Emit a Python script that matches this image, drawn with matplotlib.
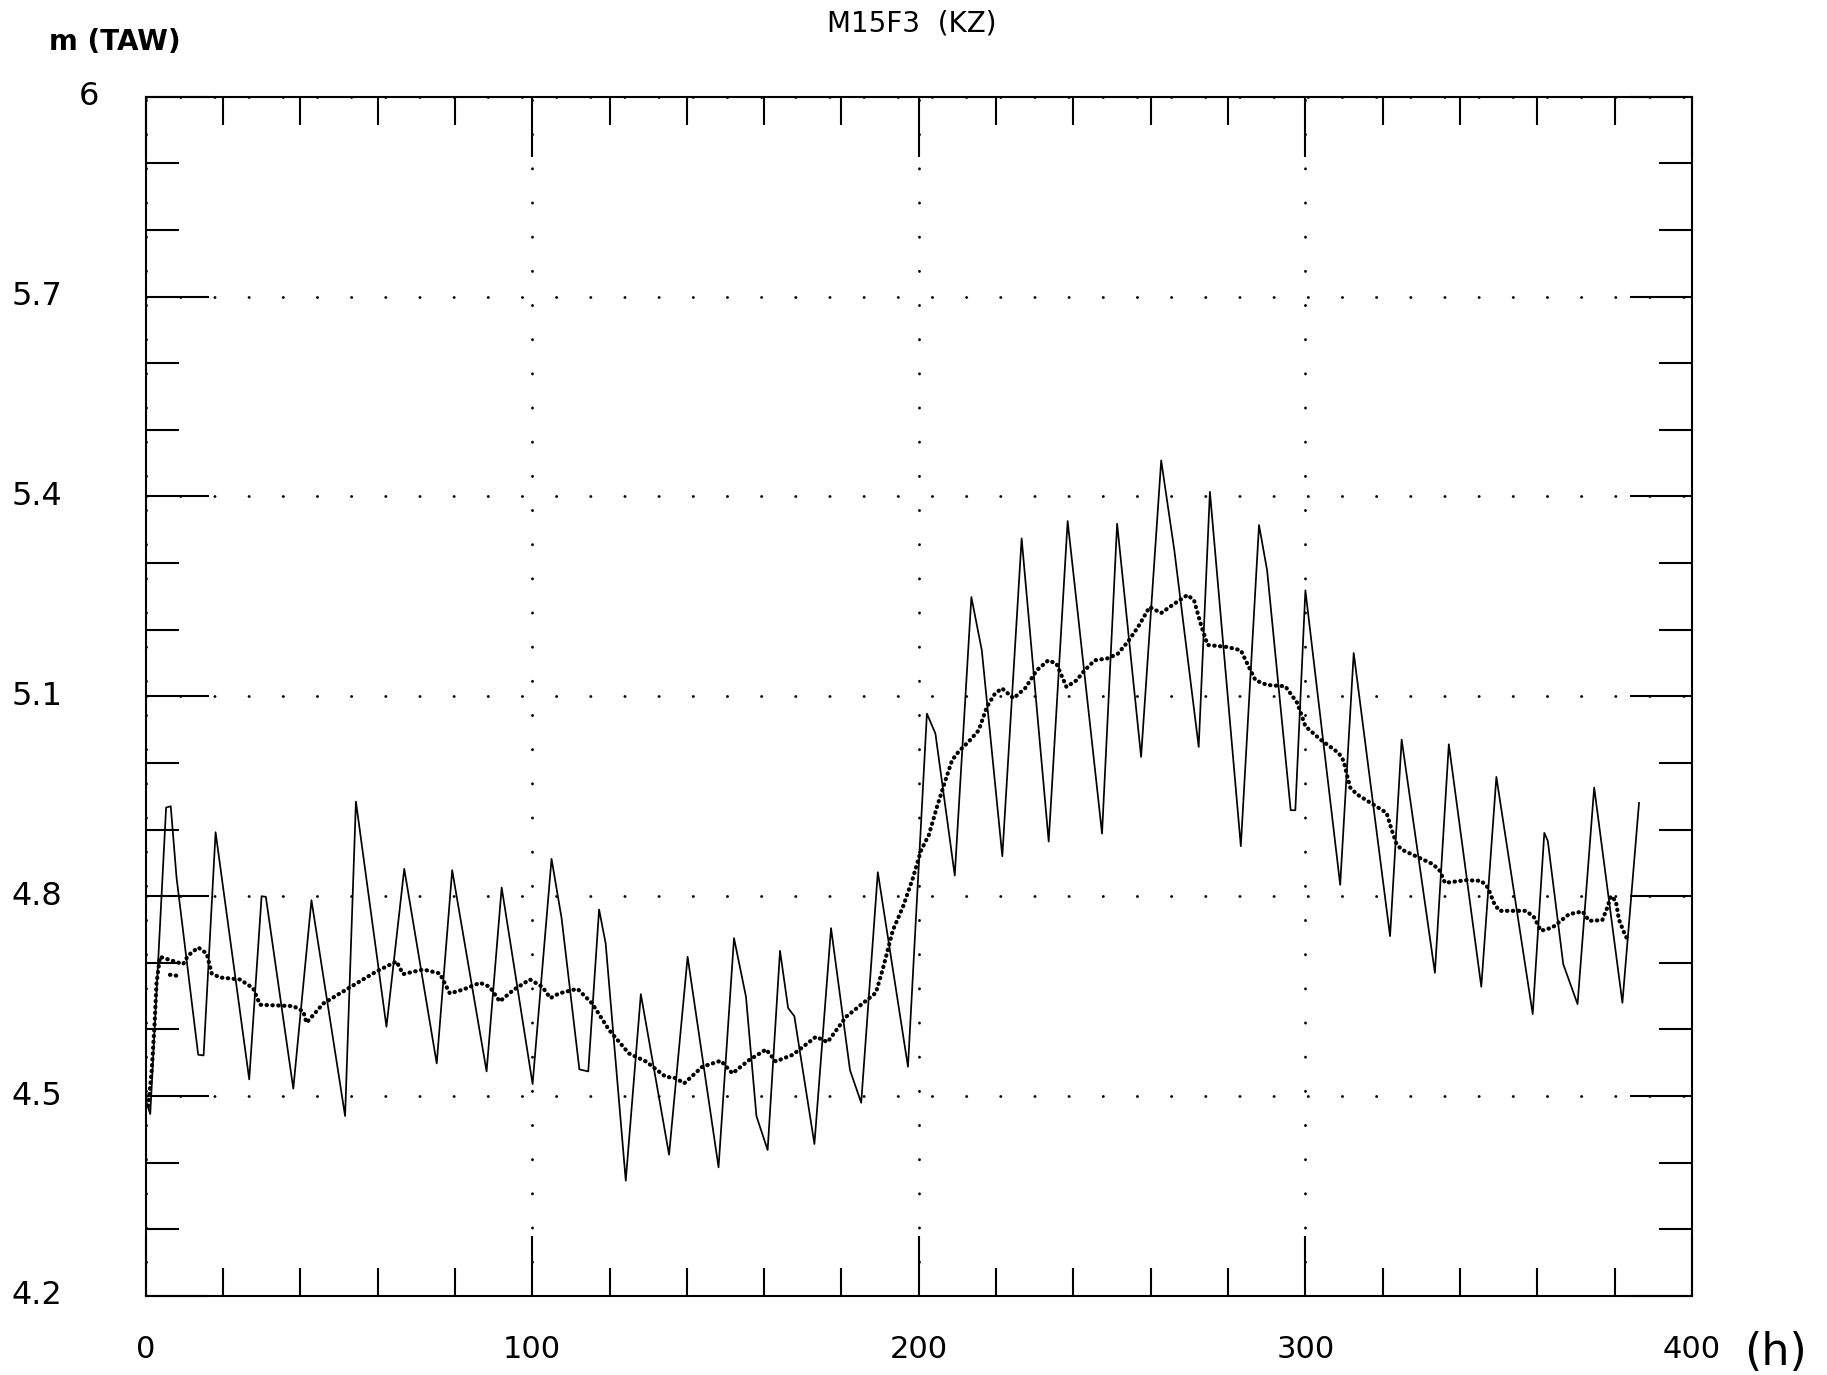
import numpy as np
import matplotlib
matplotlib.use('Agg')
import matplotlib.pyplot as plt
from matplotlib.ticker import MultipleLocator

# tide record (peaks / troughs / shoulders), hours and m TAW
tide_t = [0.0, 1.2, 5.3, 6.5, 8.0, 13.6, 15.0, 18.1, 26.8, 30.0, 31.1, 38.2, 42.9,
          51.6, 54.4, 62.3, 66.9, 75.3, 79.3, 88.2, 92.1, 100.1, 105.0, 107.6, 112.2,
          114.5, 117.3, 119.0, 124.2, 128.1, 135.4, 140.2, 148.2, 152.2, 155.3, 158.0,
          160.9, 164.1, 166.2, 167.8, 173.0, 177.3, 182.2, 185.1, 189.4, 197.2, 202.1,
          204.3, 209.3, 213.6, 216.3, 221.6, 226.6, 233.6, 238.5, 247.4, 251.3, 257.5,
          262.7, 266.1, 272.4, 275.3, 283.3, 288.0, 290.1, 296.2, 297.4, 300.0, 309.0,
          312.5, 321.9, 324.9, 333.5, 337.1, 345.5, 349.4, 358.8, 361.8, 362.7, 366.7,
          370.4, 374.7, 382.0, 386.3]
tide_v = [4.495, 4.473, 4.933, 4.935, 4.828, 4.562, 4.561, 4.896, 4.525, 4.800, 4.799,
          4.511, 4.794, 4.470, 4.942, 4.604, 4.841, 4.549, 4.839, 4.537, 4.813, 4.518,
          4.856, 4.767, 4.540, 4.537, 4.780, 4.729, 4.373, 4.653, 4.412, 4.709, 4.393,
          4.737, 4.649, 4.470, 4.419, 4.718, 4.632, 4.620, 4.428, 4.752, 4.539, 4.490,
          4.836, 4.544, 5.074, 5.044, 4.831, 5.249, 5.169, 4.860, 5.337, 4.882, 5.363,
          4.894, 5.359, 5.009, 5.454, 5.319, 5.024, 5.407, 4.875, 5.357, 5.289, 4.929,
          4.929, 5.259, 4.817, 5.165, 4.740, 5.035, 4.685, 5.028, 4.664, 4.979, 4.623,
          4.895, 4.883, 4.698, 4.638, 4.963, 4.640, 4.940]

# filtered (mean) level, dotted curve
mean_t = [0.7, 1.6, 2.4, 2.8, 3.7, 9.7, 11.0, 13.6, 15.8, 17.1, 19.2, 24.4, 27.8, 29.6,
          38.2, 40.8, 41.6, 46.0, 52.8, 59.7, 64.9, 66.6, 71.8, 76.1, 78.7, 82.2, 86.5,
          89.0, 91.6, 95.1, 99.4, 102.6, 104.7, 106.9, 111.7, 115.5, 119.9, 125.0, 129.4,
          134.5, 137.1, 139.3, 144.0, 148.8, 151.8, 156.1, 160.5, 163.0, 167.4, 173.4,
          176.4, 181.2, 185.5, 188.9, 190.7, 193.3, 195.9, 198.4, 200.6, 202.6, 204.7,
          206.9, 208.6, 210.3, 212.9, 215.5, 217.6, 219.7, 221.5, 224.5, 227.5, 230.5,
          233.5, 235.6, 238.2, 240.8, 242.9, 245.5, 248.9, 251.5, 254.1, 256.7, 259.7,
          262.7, 266.1, 269.5, 271.2, 273.0, 274.7, 279.8, 283.3, 285.8, 287.1, 290.1,
          294.8, 297.9, 300.0, 303.9, 308.6, 309.9, 310.7, 311.6, 313.3, 321.0, 322.3,
          323.6, 324.9, 333.0, 334.8, 336.1, 341.6, 345.5, 347.2, 348.9, 350.2, 357.1,
          359.2, 360.9, 363.9, 368.2, 371.7, 373.4, 376.8, 378.1, 379.0, 380.3, 381.1,
          382.8, 383.7]
mean_v = [4.485, 4.540, 4.617, 4.668, 4.709, 4.698, 4.711, 4.723, 4.714, 4.684, 4.678,
          4.675, 4.662, 4.637, 4.635, 4.627, 4.610, 4.639, 4.663, 4.687, 4.702, 4.683,
          4.690, 4.684, 4.654, 4.660, 4.670, 4.664, 4.642, 4.659, 4.675, 4.664, 4.647,
          4.654, 4.661, 4.639, 4.599, 4.564, 4.552, 4.529, 4.527, 4.519, 4.544, 4.553,
          4.534, 4.554, 4.570, 4.552, 4.562, 4.589, 4.581, 4.619, 4.639, 4.655, 4.691,
          4.749, 4.784, 4.826, 4.869, 4.892, 4.934, 4.974, 5.004, 5.017, 5.032, 5.049,
          5.084, 5.104, 5.112, 5.097, 5.112, 5.139, 5.154, 5.149, 5.114, 5.124, 5.139,
          5.154, 5.157, 5.164, 5.182, 5.204, 5.234, 5.225, 5.239, 5.252, 5.244, 5.207,
          5.177, 5.174, 5.169, 5.139, 5.124, 5.117, 5.115, 5.090, 5.055, 5.035, 5.015,
          5.003, 4.983, 4.963, 4.953, 4.925, 4.900, 4.878, 4.870, 4.848, 4.838, 4.820,
          4.824, 4.823, 4.813, 4.788, 4.778, 4.778, 4.768, 4.748, 4.753, 4.773, 4.777,
          4.763, 4.764, 4.783, 4.800, 4.793, 4.765, 4.740, 4.733]
# short second dotted stretch near the start
stub_t = [6.3, 8.9]
stub_v = [4.682, 4.680]

x_ticks = [0, 100, 200, 300, 400]
x_labels = ['0', '100', '200', '300', '400']
y_ticks = [4.2, 4.5, 4.8, 5.1, 5.4, 5.7, 6.0]
y_labels = ['4.2', '4.5', '4.8', '5.1', '5.4', '5.7', '6']

fig = plt.figure(figsize=(18.27, 13.75), dpi=100)
ax = fig.add_axes([0.0797, 0.0575, 0.8464, 0.8722])

ax.plot(tide_t, tide_v, color='black', lw=1.25)
ax.plot(mean_t, mean_v, color='black', lw=3.0, linestyle=(0, (0.1, 1.3)),
        dash_capstyle='round')
ax.plot(stub_t, stub_v, color='black', lw=3.0, linestyle=(0, (0.1, 1.3)),
        dash_capstyle='round')

ax.set_xlim(0, 400)
ax.set_ylim(4.2, 6.0)
ax.set_xticks(x_ticks)
ax.set_xticklabels(x_labels, fontsize=22)
ax.set_yticks(y_ticks)
ax.set_yticklabels([])
ax.xaxis.set_minor_locator(MultipleLocator(20))
ax.yaxis.set_minor_locator(MultipleLocator(0.1))

ax.tick_params(which='both', direction='in', top=True, right=True, width=1.5,
               color='black')
ax.tick_params(axis='x', which='major', length=43, pad=28)
ax.tick_params(axis='x', which='minor', length=20)
ax.tick_params(axis='y', which='major', length=45)
ax.tick_params(axis='y', which='minor', length=24)

ax.grid(True, which='major', color='black', lw=2.0, linestyle=(0, (0.1, 12.2)),
        dash_capstyle='round')

for sp in ax.spines.values():
    sp.set_linewidth(1.5)

# y labels placed by hand: the "6" sits further right than the others
ytrans = ax.get_yaxis_transform()
for val, lab in zip(y_ticks, y_labels):
    xpos = -0.0431 if lab == '6' else -0.0867
    ax.text(xpos, val, lab, transform=ytrans, ha='left', va='center', fontsize=23)

fig.text(0.499, 0.983, 'M15F3  (KZ)', ha='center', va='center', fontsize=20)
fig.text(0.0268, 0.9695, 'm (TAW)', ha='left', va='center', fontsize=20,
         fontweight='bold')
fig.text(0.9546, 0.0167, '(h)', ha='left', va='center', fontsize=32)

plt.savefig('out.png', dpi=100)
